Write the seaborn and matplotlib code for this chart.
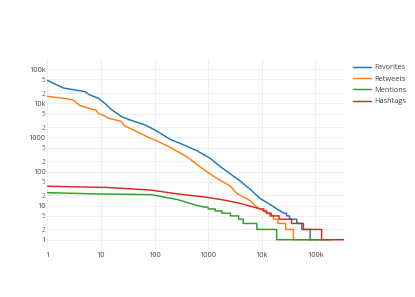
import matplotlib
matplotlib.use("Agg")
import matplotlib.pyplot as plt
import pandas as pd
import seaborn as sns

# rank -> count (log-log rank/frequency curves)
FAV_RANK = [1, 2, 5, 6, 9, 12, 15, 24, 32, 65, 103, 196, 302, 620, 1100, 1680,
            4000, 6100, 9400, 14000, 22000, 26000, 28999, 29000, 32999, 33000,
            44999, 45000, 55999, 56000, 79999, 80000, 150000]
FAV_COUNT = [47000, 28000, 22000, 18000, 14000, 9700, 6900, 4100, 3400, 2350, 1630, 875,
             665, 405, 241, 140, 52, 30, 16, 11, 7, 6, 6, 5, 5, 4,
             4, 3, 3, 2, 2, 1, 1]

RT_RANK = [1, 2, 3, 4, 7, 8, 9, 12, 13, 24, 27, 35, 65, 72, 110, 196, 400, 820,
           1450, 2600, 3400, 6100, 8100, 10900, 12400, 13999, 14000, 16499, 16500,
           19999, 20000, 27999, 28000, 38999, 39000, 120000]
RT_COUNT = [16000, 14000, 12600, 8700, 6600, 6400, 5000, 4200, 3750, 2950, 2230, 1830,
            1150, 1050, 795, 510, 270, 115, 63, 37, 23, 14, 9, 7, 6, 6, 5, 5, 4,
            4, 3, 3, 2, 2, 1, 1]

MEN_RANK = [1, 8, 86, 270, 630, 880, 999, 1000, 1349, 1350, 1799, 1800, 2599, 2600,
            3699, 3700, 4499, 4500, 8099, 8100, 18999, 19000, 200000]
MEN_COUNT = [24, 22, 21, 15, 10, 9, 9, 8, 8, 7, 7, 6, 6, 5,
             5, 4, 4, 3, 3, 2, 2, 1, 1]

HT_RANK = [1, 13, 86, 270, 980, 2000, 4000, 6100, 9300, 10899, 10900, 12399, 12400,
           14999, 15000, 20999, 21000, 35999, 36000, 59999, 60000, 130999, 131000, 343000]
HT_COUNT = [37, 34, 28.5, 22, 17.4, 14.5, 11.6, 9.6, 8, 8, 7, 7, 6,
            6, 5, 5, 4, 4, 3, 3, 2, 2, 1, 1]

SERIES = ["Favorites", "Retweets", "Mentions", "Hashtags"]
COLORS = ["#1f77b4", "#ff7f0e", "#2ca02c", "#d62728"]

X_TICKS = [1, 10, 100, 1000, 10000, 100000]
X_LABELS = ["1", "10", "100", "1000", "10k", "100k"]
Y_MAJOR = [1, 10, 100, 1000, 10000, 100000]
Y_MAJOR_LABELS = ["1", "10", "100", "1000", "10k", "100k"]


def build_frame():
    parts = []
    for name, ranks, counts in [
        ("Favorites", FAV_RANK, FAV_COUNT),
        ("Retweets", RT_RANK, RT_COUNT),
        ("Mentions", MEN_RANK, MEN_COUNT),
        ("Hashtags", HT_RANK, HT_COUNT),
    ]:
        parts.append(pd.DataFrame({"rank": ranks, "count": counts, "series": name}))
    return pd.concat(parts, ignore_index=True)


def main():
    sns.set_style("white")
    plt.rcParams["font.family"] = ["Open Sans", "DejaVu Sans"]

    df = build_frame()

    W, H = 415, 297
    fig = plt.figure(figsize=(W / 100, H / 100), dpi=100)
    left, right, top, bottom = 47.4, 344.0, 59.3, 249.6
    ax = fig.add_axes([left / W, 1 - bottom / H, (right - left) / W, (bottom - top) / H])

    sns.lineplot(data=df, x="rank", y="count", hue="series", hue_order=SERIES,
                 palette=COLORS, estimator=None, sort=False, linewidth=1.05, ax=ax)

    ax.set_xscale("log")
    ax.set_yscale("log")
    ax.set_xlim(1, 10 ** 5.535)
    ax.set_ylim(10 ** -0.29, 10 ** 5.29)

    grid_kw = dict(color="#eeeeee", linewidth=0.75, zorder=0)
    for x in X_TICKS:
        ax.axvline(x, **grid_kw)
    y_minor = []
    for base in Y_MAJOR:
        ax.axhline(base, **grid_kw)
        for m in (2, 5):
            if base * m < 10 ** 5.29:
                y_minor.append(base * m)
                ax.axhline(base * m, **grid_kw)

    ax.set_xticks(X_TICKS)
    ax.set_xticklabels(X_LABELS)
    ax.xaxis.set_minor_locator(matplotlib.ticker.NullLocator())
    ax.set_yticks(Y_MAJOR)
    ax.set_yticklabels(Y_MAJOR_LABELS)
    ax.set_yticks(y_minor, minor=True)
    ax.set_yticklabels(["2" if str(v)[0] == "2" else "5" for v in y_minor], minor=True)

    ax.tick_params(axis="both", which="both", length=0, colors="#444444")
    ax.tick_params(axis="x", labelsize=5.3, pad=1.6)
    ax.tick_params(axis="y", which="major", labelsize=5.3, pad=1.2)
    ax.tick_params(axis="y", which="minor", labelsize=4.7, pad=1.2)
    for lab in ax.get_yticklabels(minor=True):
        lab.set_color("#666666")

    for s in ax.spines.values():
        s.set_visible(False)
    ax.set_xlabel("")
    ax.set_ylabel("")

    handles, labels = ax.get_legend_handles_labels()
    leg = ax.legend(handles, labels, loc="upper left",
                    bbox_to_anchor=(353.3 / W, 1 - 64.0 / H), bbox_transform=fig.transFigure,
                    frameon=False, fontsize=5.3, borderpad=0, borderaxespad=0,
                    handlelength=2.4, handletextpad=0.5, labelspacing=0.58)
    for t in leg.get_texts():
        t.set_color("#444444")
    for line in leg.get_lines():
        line.set_linewidth(1.05)

    fig.savefig("out.png", dpi=100)


if __name__ == "__main__":
    main()
